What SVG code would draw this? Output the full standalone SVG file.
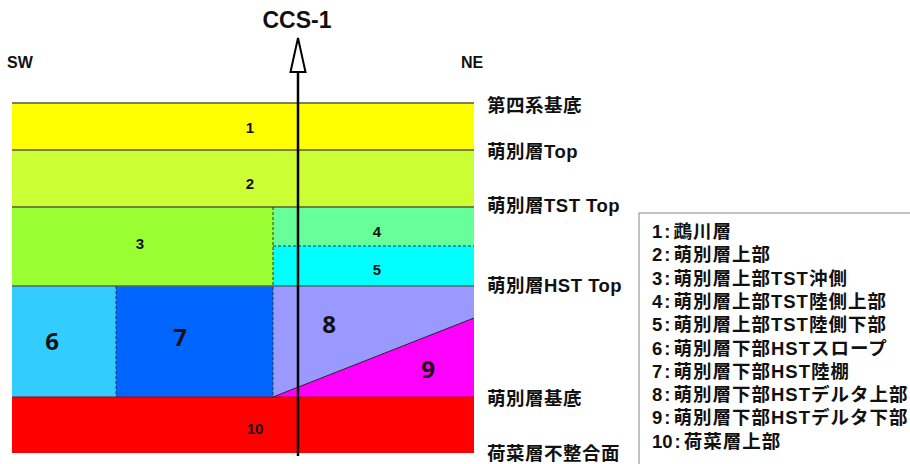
<svg xmlns="http://www.w3.org/2000/svg" width="910" height="464" viewBox="0 0 910 464">
<style>
text{font-family:"Liberation Sans","Noto Sans CJK JP",sans-serif;font-weight:bold;fill:#111}
.num{font-size:15px;text-anchor:middle}
.big{font-size:24px;text-anchor:middle;font-family:"Open Sans","Liberation Sans",sans-serif}
.lab{font-size:18.5px;letter-spacing:0.5px}
.leg{font-size:18.5px}
.leg tspan.t{letter-spacing:1px}
.bd{stroke:#5a5a3a;stroke-width:1.5;fill:none}
.dash{stroke:#333;stroke-width:1;stroke-dasharray:3,2;fill:none}
</style>
<rect width="910" height="464" fill="#fff"/>
<g id="layers">
<g id="layer1"><rect x="12" y="103" width="462" height="47" fill="#FFFF00"/><text class="num" x="250" y="133">1</text></g>
<g id="layer2"><rect x="12" y="150" width="462" height="57" fill="#CCFF33"/><text class="num" x="250" y="189">2</text></g>
<g id="layer3"><rect x="12" y="207" width="261" height="79" fill="#99FF33"/><text class="num" x="140" y="249">3</text></g>
<g id="layer4"><rect x="273" y="207" width="201" height="39" fill="#66FF99"/><text class="num" x="377" y="237">4</text></g>
<g id="layer5"><rect x="273" y="246" width="201" height="40" fill="#00FFFF"/><text class="num" x="377" y="275">5</text></g>
<g id="layer6"><rect x="12" y="286" width="104" height="111" fill="#33CCFF"/><text class="big" x="52" y="350">6</text></g>
<g id="layer7"><rect x="116" y="286" width="157" height="111" fill="#0066FF"/><text class="big" x="180" y="346">7</text></g>
<g id="layer8"><polygon points="273,286 474,286 474,318 273,397" fill="#9999FF"/><text class="big" x="329" y="333">8</text></g>
<g id="layer9"><polygon points="474,318 474,397 273,397" fill="#FF00FF"/><text class="big" x="428" y="378">9</text></g>
<g id="layer10"><rect x="12" y="397" width="462" height="56" fill="#FF0000"/><text class="num" x="255" y="434">10</text></g>
</g>
<g id="boundaries">
<line class="bd" x1="12" y1="103" x2="474" y2="103"/>
<line class="bd" x1="12" y1="150" x2="474" y2="150"/>
<line class="bd" x1="12" y1="207" x2="474" y2="207"/>
<line x1="12" y1="286" x2="474" y2="286" stroke="#4a6a6a" stroke-width="1.5"/>
<line x1="12" y1="397" x2="474" y2="397" stroke="#b00000" stroke-width="1"/>
<line x1="273" y1="397" x2="474" y2="318" stroke="#222" stroke-width="1"/>
<line class="dash" x1="273" y1="207" x2="273" y2="397"/>
<line class="dash" x1="273" y1="246" x2="474" y2="246"/>
<line class="dash" x1="116" y1="286" x2="116" y2="397"/>
</g>
<g id="connectors">
<line x1="298" y1="72" x2="298" y2="456" stroke="#000" stroke-width="2.5"/>
<polygon points="298,38 290.5,72 305.5,72" fill="#fff" stroke="#000" stroke-width="2"/>
</g>
<g id="well-label"><text x="297" y="28" font-size="23" text-anchor="middle">CCS-1</text></g>
<g id="directions">
<text x="7" y="68" font-size="16">SW</text>
<text x="461" y="68" font-size="16">NE</text>
</g>
<g id="horizon-labels">
<text class="lab" x="487" y="112">第四系基底</text>
<text class="lab" x="487" y="158">萌別層Top</text>
<text class="lab" x="487" y="212">萌別層TST Top</text>
<text class="lab" x="487" y="292">萌別層HST Top</text>
<text class="lab" x="487" y="405">萌別層基底</text>
<text class="lab" x="487" y="460">荷菜層不整合面</text>
</g>
<g id="legend">
<rect x="639" y="213" width="280" height="260" fill="#fff" stroke="#888" stroke-width="1"/>
<text class="leg" x="652" y="238">1<tspan dx="2">:</tspan><tspan class="t" dx="3">鵡川層</tspan></text>
<text class="leg" x="652" y="261.3">2<tspan dx="2">:</tspan><tspan class="t" dx="3">萌別層上部</tspan></text>
<text class="leg" x="652" y="284.6">3<tspan dx="2">:</tspan><tspan class="t" dx="3">萌別層上部TST沖側</tspan></text>
<text class="leg" x="652" y="307.9">4<tspan dx="2">:</tspan><tspan class="t" dx="3">萌別層上部TST陸側上部</tspan></text>
<text class="leg" x="652" y="331.2">5<tspan dx="2">:</tspan><tspan class="t" dx="3">萌別層上部TST陸側下部</tspan></text>
<text class="leg" x="652" y="354.5">6<tspan dx="2">:</tspan><tspan class="t" dx="3">萌別層下部HSTスロープ</tspan></text>
<text class="leg" x="652" y="377.8">7<tspan dx="2">:</tspan><tspan class="t" dx="3">萌別層下部HST陸棚</tspan></text>
<text class="leg" x="652" y="401.1">8<tspan dx="2">:</tspan><tspan class="t" dx="3">萌別層下部HSTデルタ上部</tspan></text>
<text class="leg" x="652" y="424.4">9<tspan dx="2">:</tspan><tspan class="t" dx="3">萌別層下部HSTデルタ下部</tspan></text>
<text class="leg" x="652" y="447.7">10<tspan dx="2">:</tspan><tspan class="t" dx="3">荷菜層上部</tspan></text>
</g>
</svg>
